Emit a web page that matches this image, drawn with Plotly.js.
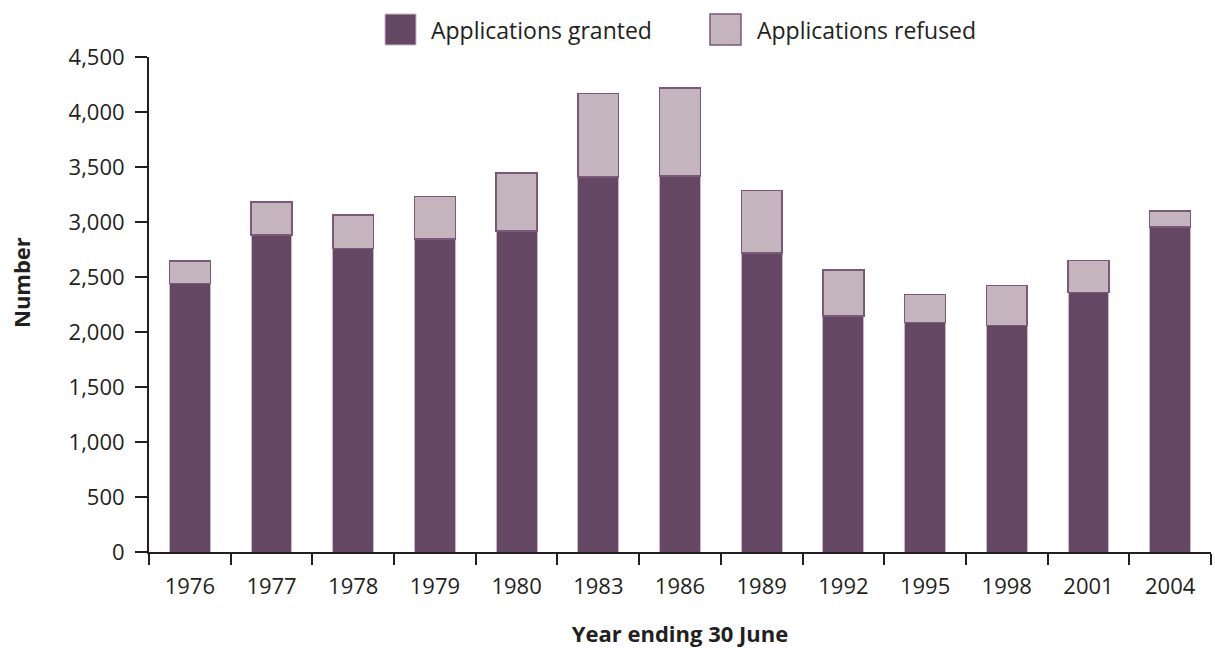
<!DOCTYPE html>
<html>
<head>
<meta charset="utf-8">
<script src="https://cdn.plot.ly/plotly-3.0.1.min.js"></script>
<style>html,body{margin:0;padding:0;background:#fff;}#chart{width:1215px;height:648px;}</style>
</head>
<body>
<div id="chart"></div>
<script>
const years = ['1976','1977','1978','1979','1980','1983','1986','1989','1992','1995','1998','2001','2004'];
const granted = [2440, 2880, 2760, 2845, 2920, 3410, 3420, 2720, 2145, 2085, 2060, 2360, 2955];
const refused = [205, 300, 305, 385, 525, 760, 800, 565, 420, 255, 365, 290, 145];
const seriesNames = ['Applications granted', 'Applications refused'];
const colors = ['#634763', '#c3b4be'];
const edgeColors = ['#c9b9c6', '#7a5a78'];

const FONT = '"Open Sans", "Noto Sans", sans-serif';
const TXT = '#231f20';
const traces = [
  {type:'bar', name: seriesNames[0], x: years, y: granted,
   marker:{color:colors[0], line:{color:edgeColors[0], width:1}}, hoverinfo:'y'},
  {type:'bar', name: seriesNames[1], x: years, y: refused,
   marker:{color:colors[1], line:{color:edgeColors[1], width:1.5}}, hoverinfo:'y'}
];

// plot area in pixels: x 149..1211, y 57..552
const L = 149, R = 1211, T = 57, B = 552;
const px = x => (x - L) / (R - L);
const py = y => (B - y) / (B - T);

const legendShapes = [
  {type:'rect', xref:'paper', yref:'paper', x0:px(385), x1:px(416), y0:py(45), y1:py(14),
   fillcolor:colors[0], line:{color:edgeColors[0], width:1}},
  {type:'rect', xref:'paper', yref:'paper', x0:px(710), x1:px(741), y0:py(45), y1:py(14),
   fillcolor:colors[1], line:{color:edgeColors[1], width:1.5}}
];
const annotations = [
  {xref:'paper', yref:'paper', x:px(429), y:py(30), xanchor:'left', yanchor:'middle',
   text:seriesNames[0], showarrow:false, font:{size:23, color:TXT}},
  {xref:'paper', yref:'paper', x:px(755), y:py(30), xanchor:'left', yanchor:'middle',
   text:seriesNames[1], showarrow:false, font:{size:23, color:TXT}},
  {xref:'paper', yref:'paper', x:px(21), y:py(283), xanchor:'center', yanchor:'middle',
   textangle:-90, text:'<b>Number</b>', showarrow:false, font:{size:22, color:TXT}}
];

const layout = {
  width:1215, height:648,
  margin:{l:L, r:1215-R, t:T, b:648-B},
  barmode:'stack', bargap:0.5,
  paper_bgcolor:'#fff', plot_bgcolor:'#fff',
  font:{family:FONT, size:22, color:TXT},
  showlegend:false,
  shapes: legendShapes,
  annotations: annotations,
  xaxis:{type:'category', showline:true, linecolor:TXT, linewidth:2,
         ticks:'outside', ticklen:11, tickwidth:2, tickcolor:TXT, tickson:'boundaries',
         tickfont:{size:22, color:TXT},
         showgrid:false, zeroline:false, ticklabelstandoff:14,
         title:{text:'<b>Year ending 30 June</b>', font:{size:22, color:TXT}, standoff:28}},
  yaxis:{range:[0,4500], tickvals:[0,500,1000,1500,2000,2500,3000,3500,4000,4500],
         tickformat:',d', showline:true, linecolor:TXT, linewidth:2,
         ticks:'outside', ticklen:12, tickwidth:2, tickcolor:TXT,
         tickfont:{size:22, color:TXT},
         showgrid:false, zeroline:false, ticklabelstandoff:6}
};
Plotly.newPlot('chart', traces, layout, {displayModeBar:false, staticPlot:true});
</script>
</body>
</html>
